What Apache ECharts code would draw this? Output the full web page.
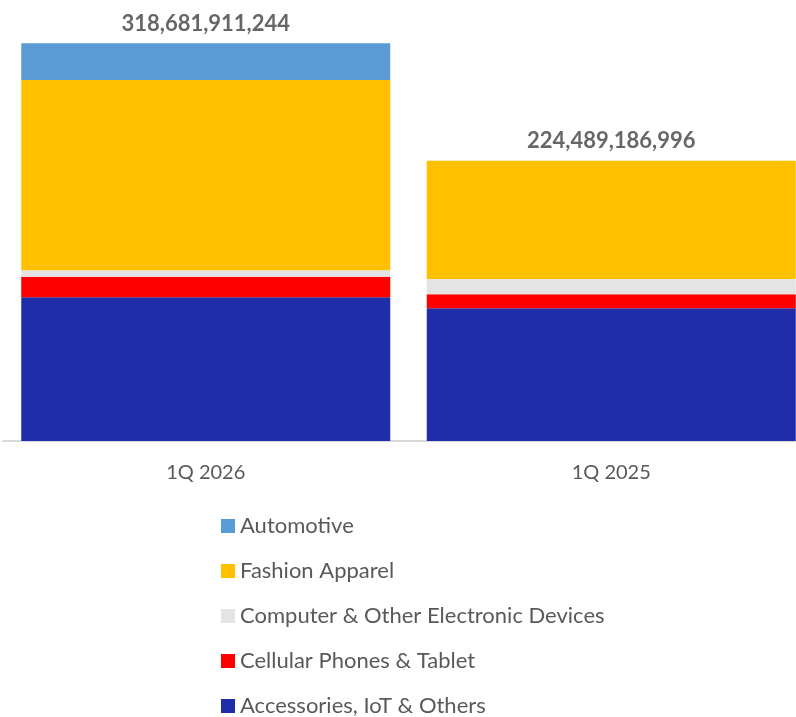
<!DOCTYPE html>
<html>
<head>
<meta charset="utf-8">
<script src="https://cdn.jsdelivr.net/npm/echarts@6/dist/echarts.min.js"></script>
<style>
  html, body { margin: 0; padding: 0; background: #ffffff; }
  #chart { width: 796px; height: 717px; }
</style>
</head>
<body>
<div id="chart"></div>
<script>
// Quarterly totals by product category (stack order: bottom to top)
const quarters = ['1Q 2026', '1Q 2025'];

const accessories = [115100000000, 106300000000];
const cellular    = [16500000000, 11200000000];
const computer    = [5100000000, 12300000000];
const fashion     = [152400000000, 94689186996];
const automotive  = [29581911244, 0];

const seriesNames = [
  'Accessories, IoT & Others',
  'Cellular Phones & Tablet',
  'Computer & Other Electronic Devices',
  'Fashion Apparel',
  'Automotive'
];
const seriesValues = [accessories, cellular, computer, fashion, automotive];
const seriesColors = ['#1F2DA8', '#FF0000', '#E4E4E4', '#FFC000', '#5B9BD5'];

// Totals shown above each stack
const totals = quarters.map((_, i) => seriesValues.reduce((s, arr) => s + arr[i], 0));

const FONT = 'Lato, "Open Sans", sans-serif';

const chart = echarts.init(document.getElementById('chart'), null, { renderer: 'canvas' });

const barSeries = seriesNames.map((name, k) => ({
  name: name,
  type: 'bar',
  stack: 'total',
  data: seriesValues[k],
  barWidth: 369,
  itemStyle: { color: seriesColors[k] },
  emphasis: { disabled: true },
  z: 3
}));

// Invisible points at each stack top carrying the total label
const totalSeries = {
  name: 'Total',
  type: 'scatter',
  data: totals,
  symbol: 'circle',
  symbolSize: 1,
  itemStyle: { color: 'rgba(0,0,0,0)' },
  silent: true,
  z: 5,
  label: {
    show: true,
    position: 'top',
    distance: 8,
    fontFamily: FONT,
    fontWeight: 'bold',
    fontSize: 22,
    color: '#404040',
    formatter: p => p.value.toLocaleString('en-US')
  }
};

chart.setOption({
  animation: false,
  backgroundColor: '#ffffff',
  grid: {
    left: 3, top: 29, width: 811, bottom: 276,
    containLabel: false,
    outerBoundsMode: 'none'
  },
  xAxis: {
    type: 'category',
    data: quarters,
    axisTick: { show: false },
    axisLine: { show: true, lineStyle: { color: '#D9D9D9', width: 2 } },
    axisLabel: {
      margin: 22,
      fontFamily: FONT,
      fontSize: 20,
      color: '#595959'
    }
  },
  yAxis: {
    type: 'value',
    min: 0,
    max: 330000000000,
    show: false,
    splitLine: { show: false }
  },
  legend: {
    data: seriesNames.slice().reverse(),
    orient: 'vertical',
    left: 221,
    top: 514,
    height: 260,
    padding: 0,
    itemWidth: 14,
    itemHeight: 14,
    itemGap: 21,
    icon: 'rect',
    selectedMode: false,
    textStyle: {
      fontFamily: FONT,
      fontSize: 22,
      lineHeight: 24,
      color: '#595959'
    }
  },
  series: barSeries.concat([totalSeries])
});
</script>
</body>
</html>
